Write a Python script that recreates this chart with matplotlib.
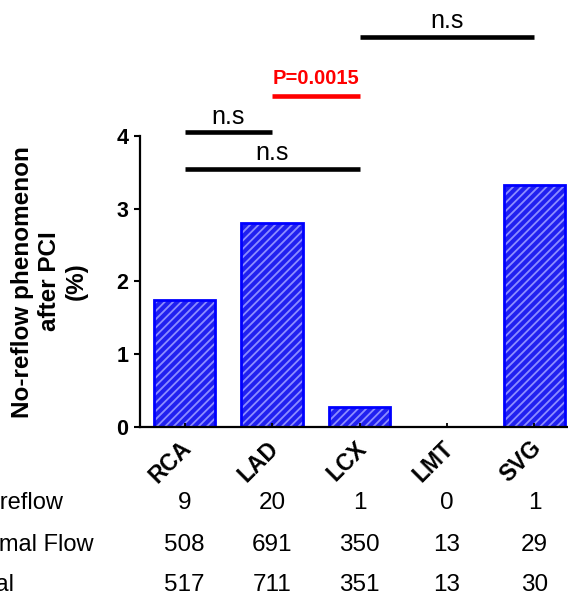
import numpy as np
import matplotlib.pyplot as plt
import matplotlib.transforms as mtransforms

plt.rcParams['font.family'] = ['Liberation Sans', 'DejaVu Sans']
plt.rcParams['hatch.linewidth'] = 1.3

# data
vessels = ["RCA", "LAD", "LCX", "LMT", "SVG"]
noreflow_pct = [1.74, 2.81, 0.28, 0.0, 3.33]
row_names = ["No-reflow", "Normal Flow", "Total"]
n_noreflow = [9, 20, 1, 0, 1]
n_normal = [508, 691, 350, 13, 29]
n_total = [517, 711, 351, 13, 30]

# comparisons: (left bar, right bar, height, text, colour)
comparisons = [
    (0, 2, 3.55, "n.s", "black"),
    (0, 1, 4.05, "n.s", "black"),
    (1, 2, 4.55, "P=0.0015", "red"),
    (2, 4, 5.36, "n.s", "black"),
]

fig = plt.figure(figsize=(5.68, 6.03), dpi=100)
ax = fig.add_axes([0.2465, 0.2919, 0.7535, 0.4826])

x = np.arange(len(vessels))
ax.bar(x, noreflow_pct, width=0.7, color="#2020f0", edgecolor="#8c8cff",
       hatch="////", linewidth=0, zorder=1)
ax.bar(x, noreflow_pct, width=0.7, fill=False, edgecolor="#0000ff",
       linewidth=2, zorder=1.2)

ax.set_xlim(-0.51, 4.383)
ax.set_ylim(0, 4)
ax.set_yticks([0, 1, 2, 3, 4])
ax.spines["top"].set_visible(False)
ax.spines["right"].set_visible(False)
ax.spines["left"].set_linewidth(1.6)
ax.spines["bottom"].set_linewidth(1.6)
ax.tick_params(axis="y", direction="out", length=4.5, width=1.5, pad=4,
               labelsize=15.5)
ax.tick_params(axis="x", direction="in", length=3, width=1.3, pad=7)
for lab in ax.get_yticklabels():
    lab.set_fontweight("bold")

ax.set_xticks(x)
ax.set_xticklabels(vessels, rotation=45, ha="right", va="top",
                   rotation_mode="anchor", fontsize=16.5, fontweight="bold")
off = mtransforms.ScaledTranslation(-5 / 100, 0, fig.dpi_scale_trans)
for lab in ax.get_xticklabels():
    lab.set_transform(lab.get_transform() + off)

fig.text(0.087, 0.533, "No-reflow phenomenon\nafter PCI\n(%)", rotation=90,
         ha="center", va="center", fontsize=17.5, fontweight="bold",
         linespacing=1.2, multialignment="center")

# significance bars
for a, b, h, txt, col in comparisons:
    ax.plot([a, b], [h, h], color=col, lw=3.3, solid_capstyle="butt",
            clip_on=False)
    if col == "red":
        ax.text((a + b) / 2, h + 0.17, txt, color=col, ha="center",
                va="baseline", fontsize=14.5, fontweight="bold")
    else:
        ax.text((a + b) / 2, h + 0.12, txt, color=col, ha="center",
                va="baseline", fontsize=18)

# count table under the chart (row names run off the left edge, as in the source)
trans = mtransforms.blended_transform_factory(ax.transData, fig.transFigure)
row_y = [0.166, 0.0962, 0.0299]
row_x = [-0.066, -0.068, -0.062]
for name, vals, yy, xx in zip(row_names, [n_noreflow, n_normal, n_total],
                              row_y, row_x):
    fig.text(xx, yy, name, ha="left", va="center", fontsize=17)
    for xi, v in zip(x, vals):
        ax.text(xi, yy, str(v), transform=trans, ha="center", va="center",
                fontsize=17.5)

fig.savefig("out.png", dpi=100)
